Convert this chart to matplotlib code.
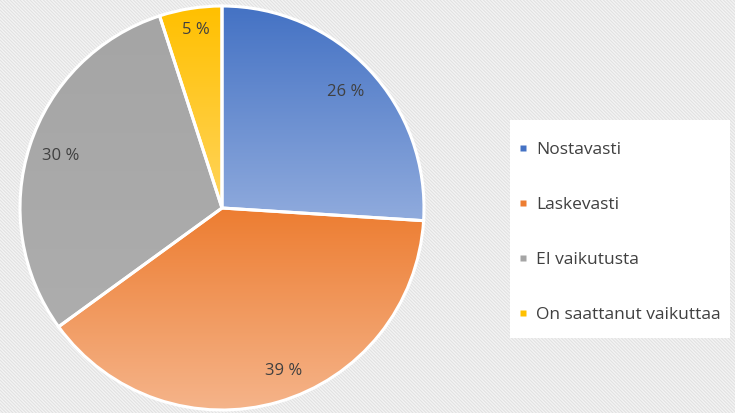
import matplotlib
matplotlib.use("Agg")
import matplotlib.pyplot as plt
import numpy as np
from matplotlib.colors import LinearSegmentedColormap
from matplotlib.lines import Line2D
from matplotlib.patches import Rectangle

labels = ["Nostavasti", "Laskevasti", "EI vaikutusta", "On saattanut vaikuttaa"]
values = [26, 39, 30, 5]
top_colors = ["#4472c4", "#ed7d31", "#a5a5a5", "#ffc000"]
bottom_colors = ["#90abdd", "#f5b48a", "#adadad", "#ffd45c"]
legend_colors = ["#4472c4", "#ed7d31", "#a5a5a5", "#ffc000"]

plt.rcParams["font.family"] = ["Open Sans", "DejaVu Sans"]
plt.rcParams["hatch.linewidth"] = 0.8

fig = plt.figure(figsize=(7.35, 4.13), dpi=100)
fig.patch.set_facecolor("#f4f4f4")

# striped background
bg = Rectangle((0, 0), 1, 1, transform=fig.transFigure, facecolor="#f4f4f4",
               edgecolor="#e2e2e2", hatch="\\" * 10, linewidth=0, zorder=-10)
fig.patches.append(bg)

ax = fig.add_axes([20 / 735, 3 / 413, 404 / 735, 404 / 413])
ax.set_facecolor("none")

wedges, texts, autotexts = ax.pie(
    values, startangle=90, counterclock=False,
    autopct=lambda p: f"{p:.0f} %", pctdistance=0.84,
    wedgeprops=dict(edgecolor="white", linewidth=2.2),
    textprops=dict(color="#404040", fontsize=12),
)

grad = np.linspace(0, 1, 256).reshape(-1, 1)
for w, c0, c1 in zip(wedges, top_colors, bottom_colors):
    ext = w.get_path().get_extents()
    cmap = LinearSegmentedColormap.from_list("g", [c0, c1])
    im = ax.imshow(grad, cmap=cmap, aspect="auto", origin="upper",
                   extent=(ext.x0, ext.x1, ext.y0, ext.y1), zorder=0.5)
    im.set_clip_path(w)
    w.set_facecolor("none")
    w.set_zorder(1)
for t in autotexts:
    t.set_zorder(3)
# small nudges to match label placement
autotexts[1].set_x(autotexts[1].get_position()[0] + 0.07)
autotexts[3].set_y(autotexts[3].get_position()[1] + 0.05)

ax.set_xlim(-1.0, 1.0)
ax.set_ylim(-1.0, 1.0)
ax.set_aspect("equal")
ax.axis("off")

# legend box
box = Rectangle((510 / 735, 1 - 338 / 413), 220 / 735, 218 / 413,
                transform=fig.transFigure, facecolor="white", edgecolor="none", zorder=1)
fig.patches.append(box)

handles = [Line2D([], [], linestyle="none", marker="s", markersize=5,
                  markerfacecolor=c, markeredgecolor="none") for c in legend_colors]
leg = fig.legend(handles, labels, loc="upper left",
                 bbox_to_anchor=(509 / 735, 1 - 133 / 413),
                 frameon=False, fontsize=12.5, labelspacing=2.25,
                 handlelength=0.6, handletextpad=0.45, borderpad=0)
for t in leg.get_texts():
    t.set_color("#404040")

fig.savefig("out.png", dpi=100, facecolor=fig.get_facecolor())
